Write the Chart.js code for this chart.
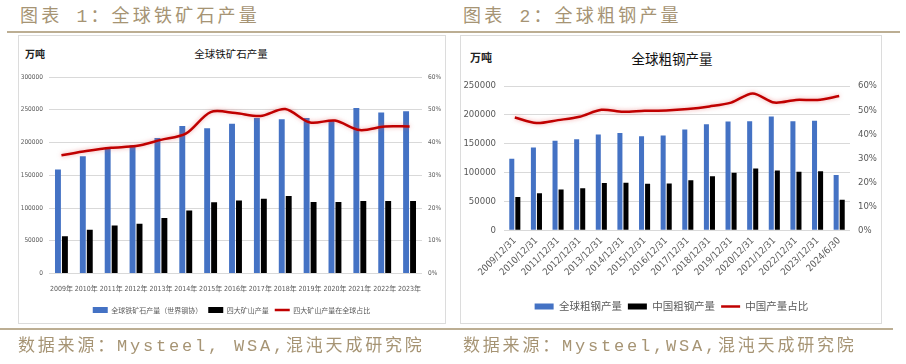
<!DOCTYPE html>
<html>
<head>
<meta charset="utf-8">
<script src="https://cdn.jsdelivr.net/npm/chart.js@4.4.1/dist/chart.umd.min.js"></script>
<style>
    html, body { margin: 0; padding: 0; background: #fff; }
    body { width: 906px; height: 364px; position: relative; overflow: hidden; }
    .hd { position: absolute; top: 4px; font-family: 'Liberation Mono', 'Noto Sans CJK SC', monospace; font-size: 18px; letter-spacing: 3.2px; color: #a69474; white-space: nowrap; line-height: 26px; }
    .src { position: absolute; top: 335px; font-family: 'Liberation Mono', 'Noto Sans CJK SC', monospace; font-size: 17px; letter-spacing: 2.8px; color: #a69474; white-space: nowrap; line-height: 24px; }
    .rule { position: absolute; height: 2px; background: #bcae93; }
    .box { position: absolute; top: 35px; height: 289px; border: 1px solid #dcdcdc; box-sizing: border-box; }
    .unit { position: absolute; font-family: 'Noto Sans CJK SC', sans-serif; font-weight: bold; color: #222; white-space: nowrap; }
    .ttl { position: absolute; font-family: 'Noto Sans CJK SC', sans-serif; color: #111; white-space: nowrap; transform: translateX(-50%); }
    canvas { position: absolute; }
</style>
</head>
<body>
<div class="hd" style="left:20px;">图表 1：全球铁矿石产量</div>
<div class="hd" style="left:463px;">图表 2：全球粗钢产量</div>
<div class="rule" style="left:7px; width:893px; top:31px;"></div>

<div class="box" style="left:18px; width:428px;"></div>
<div class="box" style="left:460px; width:422px;"></div>

<div class="unit" style="left:25px; top:46px; font-size:10px;">万吨</div>
<div class="ttl" style="left:231px; top:46px; font-size:10.5px;">全球铁矿石产量</div>
<div class="unit" style="left:470px; top:49px; font-size:11px;">万吨</div>
<div class="ttl" style="left:672px; top:48px; font-size:13.5px;">全球粗钢产量</div>

<canvas id="oreChart" style="left:19px; top:36px;" width="425" height="300"></canvas>
<canvas id="steelChart" style="left:462px; top:36px;" width="419" height="300"></canvas>

<div class="rule" style="left:0px; width:893px; top:328px;"></div>
<div class="src" style="left:18px;">数据来源：Mysteel, WSA,混沌天成研究院</div>
<div class="src" style="left:463px;">数据来源：Mysteel,WSA,混沌天成研究院</div>

<script>
// ---- chart 1: iron ore ----
const oreYears = ['2009年', '2010年', '2011年', '2012年', '2013年', '2014年', '2015年', '2016年',
    '2017年', '2018年', '2019年', '2020年', '2021年', '2022年', '2023年'];
const oreGlobal = [158600, 178900, 192200, 195700, 206900, 225200, 221700, 228500,
    237500, 235500, 237500, 233400, 252800, 245700, 247700];
const oreBig4 = [57000, 66800, 73400, 76000, 84600, 96300, 108600, 111600,
    114200, 118200, 109000, 109000, 110600, 110600, 110600];
const oreShare = [36.1, 37.4, 38.4, 38.9, 40.8, 42.7, 49.3, 49.0,
    48.1, 50.2, 46.1, 46.7, 43.8, 44.9, 44.9];
const oreLeftTicks = [0, 50000, 100000, 150000, 200000, 250000, 300000];
const oreRightTicks = ['0%', '10%', '20%', '30%', '40%', '50%', '60%'];

// ---- chart 2: crude steel ----
const steelDates = ['2009/12/31', '2010/12/31', '2011/12/31', '2012/12/31', '2013/12/31', '2014/12/31',
    '2015/12/31', '2016/12/31', '2017/12/31', '2018/12/31', '2019/12/31', '2020/12/31',
    '2021/12/31', '2022/12/31', '2023/12/31', '2024/6/30'];
const steelGlobal = [124000, 143500, 155000, 157500, 166000, 168500, 163000, 164000,
    174500, 183500, 188500, 188700, 197000, 188700, 189800, 95600];
const steelChina = [57500, 64000, 70500, 72800, 82000, 82300, 80500, 80800,
    86800, 93500, 99700, 106800, 103600, 101500, 102000, 52800];
const steelShare = [46.9, 44.6, 45.8, 47.2, 50.1, 49.3, 49.7, 49.8,
    50.4, 51.5, 53.1, 56.9, 53.1, 54.2, 54.2, 55.8];
const steelRightTicks = ['0%', '10%', '20%', '30%', '40%', '50%', '60%'];

const narrow = "'Liberation Sans Narrow', 'DejaVu Sans Condensed', 'Liberation Sans', 'Noto Sans CJK SC', sans-serif";
const cjk = "'Noto Sans CJK SC', sans-serif";
const BLUE = '#4472c4';
const RED = '#c00000';

// soft glow under the red share line
const glowPlugin = {
    id: 'glow',
    beforeDatasetDraw(chart, args) {
        if (chart.data.datasets[args.index].type === 'line') {
            chart.ctx.save();
            chart.ctx.shadowColor = 'rgba(230, 90, 90, 0.55)';
            chart.ctx.shadowBlur = 4;
        }
    },
    afterDatasetDraw(chart, args) {
        if (chart.data.datasets[args.index].type === 'line') {
            chart.ctx.restore();
        }
    }
};

function legendItems(chart) {
    const items = Chart.defaults.plugins.legend.labels.generateLabels(chart);
    return items.map(item => {
        const ds = chart.data.datasets[item.datasetIndex];
        if (ds.type === 'line') {
            item.pointStyle = 'line';
            item.strokeStyle = RED;
            item.lineWidth = 2.5;
        } else {
            item.pointStyle = 'rect';
            item.fillStyle = ds.backgroundColor;
            item.lineWidth = 0;
        }
        return item;
    });
}

function buildChart(id, cfg) {
    return new Chart(document.getElementById(id), {
        type: 'bar',
        data: {
            labels: cfg.labels,
            datasets: [
                { label: cfg.names[0], data: cfg.bars1, backgroundColor: BLUE, yAxisID: 'y',
                  categoryPercentage: 0.56, barPercentage: cfg.barPct, order: 1 },
                { label: cfg.names[1], data: cfg.bars2, backgroundColor: '#000000', yAxisID: 'y',
                  categoryPercentage: 0.56, barPercentage: cfg.barPct, order: 1 },
                { type: 'line', label: cfg.names[2], data: cfg.share, yAxisID: 'y1',
                  borderColor: RED, backgroundColor: RED, borderWidth: 2.5, tension: 0.3,
                  pointRadius: 0, order: 0 }
            ]
        },
        options: {
            responsive: false,
            animation: false,
            devicePixelRatio: 1,
            layout: { padding: { top: cfg.top, bottom: cfg.bottom, left: 0, right: 0 } },
            plugins: {
                tooltip: { enabled: false },
                legend: {
                    position: 'bottom',
                    labels: {
                        usePointStyle: true,
                        pointStyleWidth: cfg.boxW,
                        boxHeight: 6,
                        padding: 6,
                        color: '#595959',
                        font: { family: cjk, size: cfg.legendSize },
                        generateLabels: legendItems,
                        sort: (a, b) => a.datasetIndex - b.datasetIndex
                    }
                }
            },
            scales: {
                x: {
                    grid: { display: false, drawTicks: false },
                    border: { display: false },
                    ticks: {
                        color: '#595959',
                        font: { family: narrow, size: cfg.xTickSize },
                        padding: cfg.xPad,
                        autoSkip: false,
                        minRotation: cfg.rot,
                        maxRotation: cfg.rot
                    },
                    afterFit: s => { s.height = cfg.xHeight; }
                },
                y: {
                    position: 'left',
                    min: 0,
                    max: cfg.yMax,
                    grid: { color: '#d9d9d9', drawTicks: false },
                    border: { display: false },
                    ticks: {
                        stepSize: 50000,
                        padding: cfg.yPad,
                        color: '#595959',
                        font: { family: narrow, size: cfg.tickSize },
                        callback: v => String(v)
                    },
                    afterFit: s => { s.width = cfg.yWidth; }
                },
                y1: {
                    position: 'right',
                    min: 0,
                    max: 60,
                    grid: { display: false, drawTicks: false },
                    border: { display: false },
                    ticks: {
                        stepSize: 10,
                        padding: cfg.yPad,
                        color: '#595959',
                        font: { family: narrow, size: cfg.tickSize },
                        callback: (v) => cfg.rightTicks[Math.round(v / 10)]
                    },
                    afterFit: s => { s.width = cfg.y1Width; }
                }
            }
        },
        plugins: [glowPlugin]
    });
}

buildChart('oreChart', {
    labels: oreYears,
    names: ['全球铁矿石产量（世界钢协）', '四大矿山产量', '四大矿山产量在全球占比'],
    bars1: oreGlobal, bars2: oreBig4, share: oreShare,
    rightTicks: oreRightTicks,
    yMax: oreLeftTicks[oreLeftTicks.length - 1],
    barPct: 0.85,
    top: 41, bottom: 12.5,
    xHeight: 27, xPad: 11, rot: 0,
    yWidth: 30, y1Width: 22, yPad: 6,
    tickSize: 6.5, xTickSize: 7, legendSize: 7, boxW: 15
});

buildChart('steelChart', {
    labels: steelDates,
    names: ['全球粗钢产量', '中国粗钢产量', '中国产量占比'],
    bars1: steelGlobal, bars2: steelChina, share: steelShare,
    rightTicks: steelRightTicks,
    yMax: 250000,
    barPct: 0.83,
    top: 50, bottom: 14.3,
    xHeight: 65, xPad: 5, rot: 45,
    yWidth: 42, y1Width: 31, yPad: 8,
    tickSize: 9.5, xTickSize: 9.5, legendSize: 10.5, boxW: 19
});
</script>
</body>
</html>
